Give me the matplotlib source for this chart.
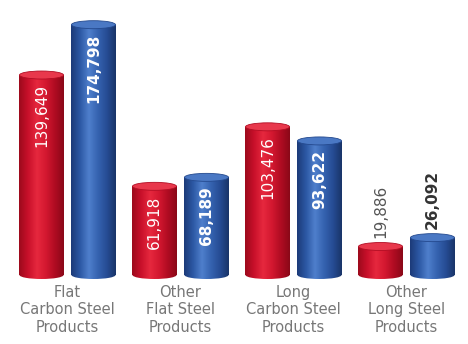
import numpy as np
import matplotlib
matplotlib.use("Agg")
import matplotlib.pyplot as plt
from matplotlib.patches import Rectangle, Ellipse
from matplotlib.colors import LinearSegmentedColormap

# data
categories = ["Flat\nCarbon Steel\nProducts", "Other\nFlat Steel\nProducts",
              "Long\nCarbon Steel\nProducts", "Other\nLong Steel\nProducts"]
red_values = [139649, 61918, 103476, 19886]
blue_values = [174798, 68189, 93622, 26092]

red_cmap = LinearSegmentedColormap.from_list(
    "red", ["#9c0a1c", "#c8102a", "#e6283e", "#d41830", "#b00c22", "#8a0818"])
blue_cmap = LinearSegmentedColormap.from_list(
    "blue", ["#1c3a78", "#2c58a4", "#4f7fcc", "#3563b0", "#264c94", "#193468"])
red_top = "#e8384c"
blue_top = "#4a78c4"

fig = plt.figure(figsize=(4.68, 3.44), dpi=100)
ax = fig.add_axes([0, 0, 1, 1])
ax.set_axis_off()

px_per_unit = 1.432 / 1000.0
xlim = (-67.5 / 113, (468 - 67.5) / 113)
ylim = (-69 / px_per_unit, (344 - 69) / px_per_unit)

width = 0.39
offset = 0.23
cap_h = 8 / px_per_unit
grad = np.linspace(0, 1, 256).reshape(1, -1)


def cylinder(xc, h, cmap, topcolor):
    x0, x1 = xc - width / 2, xc + width / 2
    body = Rectangle((x0, 0), width, h, transform=ax.transData)
    im = ax.imshow(grad, extent=[x0, x1, -cap_h, h], aspect="auto",
                   cmap=cmap, zorder=2)
    im.set_clip_path(body)
    bottom = Ellipse((xc, 0), width, cap_h, transform=ax.transData)
    im2 = ax.imshow(grad, extent=[x0, x1, -cap_h, h], aspect="auto",
                    cmap=cmap, zorder=2)
    im2.set_clip_path(bottom)
    ax.add_patch(Ellipse((xc, h), width, cap_h, facecolor=topcolor,
                         edgecolor=cmap(0.1), linewidth=0.6, zorder=3))


for i in range(len(categories)):
    cylinder(i - offset, red_values[i], red_cmap, red_top)
    cylinder(i + offset, blue_values[i], blue_cmap, blue_top)

    rtxt = f"{red_values[i]:,}"
    btxt = f"{blue_values[i]:,}"
    if i < 3:
        ax.text(i - offset, red_values[i] - 9 / px_per_unit, rtxt, rotation=90,
                ha="center", va="top", color="white", fontsize=11, zorder=4)
        ax.text(i + offset, blue_values[i] - 9 / px_per_unit, btxt, rotation=90,
                ha="center", va="top", color="white", fontsize=11,
                fontweight="bold", zorder=4)
    else:
        ax.text(i - offset, red_values[i] + 9 / px_per_unit, rtxt, rotation=90,
                ha="center", va="bottom", color="#555555", fontsize=11, zorder=4)
        ax.text(i + offset, blue_values[i] + 9 / px_per_unit, btxt, rotation=90,
                ha="center", va="bottom", color="#333333", fontsize=11,
                fontweight="bold", zorder=4)

    ax.text(i, -10 / px_per_unit, categories[i], ha="center", va="top",
            color="#777777", fontsize=10.5, linespacing=1.2)

ax.set_xlim(*xlim)
ax.set_ylim(*ylim)

fig.savefig("out.png", dpi=100)
